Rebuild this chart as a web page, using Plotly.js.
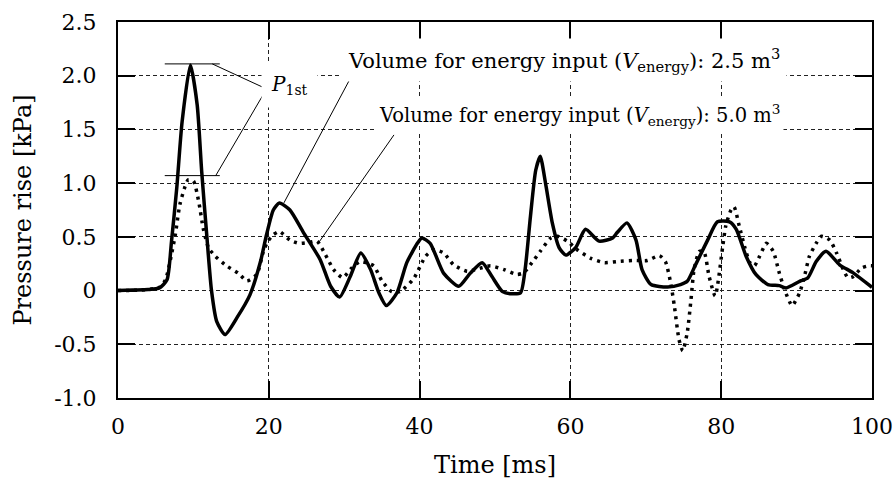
<!DOCTYPE html>
<html>
<head>
<meta charset="utf-8">
<script src="https://cdn.plot.ly/plotly-3.0.1.min.js"></script>
<style>html,body{margin:0;padding:0;background:#fff}#chart{width:893px;height:480px}</style>
</head>
<body>
<div id="chart"></div>
<script>
// ---- data (time in ms, pressure rise in kPa) ----
const timeA = [0, 2, 4, 5.5, 6.5, 7.1, 7.8, 8.5, 9.6, 10.5, 11.1, 11.8, 12.4, 13.1, 14.2, 15.8, 17.5, 18.9, 19.7, 20.6, 21.4, 22.8, 24.6, 26.8, 28.2, 29.4, 30.8, 32.2, 33.5, 34.6, 35.6, 37.0, 38.3, 39.7, 40.3, 41.4, 43.2, 45.2, 46.7, 48.3, 49.6, 51.0, 52.3, 53.4, 54.0, 54.7, 55.4, 56.0, 56.7, 57.6, 58.5, 59.4, 60.7, 62.0, 63.8, 65.6, 66.2, 67.5, 68.7, 69.5, 70.7, 72.9, 74.6, 75.5, 76.6, 78.2, 79.5, 81.1, 82.0, 83.3, 84.6, 86.2, 87.7, 88.6, 90.4, 91.5, 92.6, 93.9, 95.7, 97.5, 100];
const pressA = [0, 0.005, 0.01, 0.025, 0.1, 0.46, 0.96, 1.57, 2.10, 1.73, 1.11, 0.49, 0.0, -0.29, -0.41, -0.25, -0.04, 0.27, 0.52, 0.75, 0.815, 0.75, 0.54, 0.29, 0.04, -0.06, 0.13, 0.35, 0.195, -0.02, -0.14, -0.02, 0.26, 0.44, 0.49, 0.44, 0.16, 0.04, 0.16, 0.26, 0.13, -0.01, -0.03, -0.02, 0.2, 0.69, 1.12, 1.25, 1.0, 0.63, 0.40, 0.33, 0.40, 0.57, 0.46, 0.49, 0.54, 0.63, 0.47, 0.195, 0.056, 0.034, 0.056, 0.086, 0.24, 0.47, 0.64, 0.64, 0.57, 0.32, 0.15, 0.056, 0.046, 0.025, 0.086, 0.12, 0.27, 0.365, 0.24, 0.165, 0.03];

const timeB = [0, 3, 5.5, 6.3, 6.9, 7.6, 8.2, 8.9, 9.3, 10.0, 10.7, 11.3, 12.0, 12.9, 14.4, 16.0, 17.1, 18.4, 19.3, 19.9, 20.6, 21.4, 22.8, 24.0, 25.5, 26.4, 27.5, 28.6, 29.8, 31.0, 32.1, 33.9, 35.0, 36.3, 37.4, 39.2, 40.8, 41.9, 43.2, 44.5, 46.3, 47.6, 49.4, 51.2, 52.9, 53.8, 54.9, 56.0, 57.4, 58.3, 59.6, 60.9, 62.7, 64.5, 66.2, 68.4, 70.2, 71.8, 72.6, 73.3, 73.8, 74.4, 74.9, 75.5, 76.0, 76.4, 77.1, 77.7, 78.4, 79.2, 80.2, 80.6, 81.3, 81.7, 82.4, 83.1, 83.8, 84.4, 85.1, 86.0, 86.9, 87.7, 88.4, 89.4, 90.4, 91.1, 91.7, 92.6, 93.3, 94.4, 95.3, 96.2, 96.8, 97.5, 98.6, 99.5, 100];
const pressB = [0, 0.005, 0.03, 0.10, 0.27, 0.52, 0.80, 0.97, 1.03, 1.02, 0.83, 0.58, 0.40, 0.32, 0.23, 0.16, 0.09, 0.15, 0.37, 0.46, 0.52, 0.55, 0.47, 0.44, 0.45, 0.46, 0.335, 0.195, 0.12, 0.21, 0.27, 0.23, 0.09, -0.01, -0.01, 0.11, 0.32, 0.38, 0.35, 0.24, 0.18, 0.20, 0.23, 0.195, 0.15, 0.165, 0.26, 0.365, 0.49, 0.505, 0.46, 0.38, 0.30, 0.26, 0.27, 0.28, 0.28, 0.325, 0.27, 0.07, -0.15, -0.455, -0.56, -0.39, -0.08, 0.195, 0.365, 0.365, 0.13, -0.05, 0.41, 0.60, 0.75, 0.78, 0.60, 0.41, 0.26, 0.23, 0.32, 0.44, 0.365, 0.165, 0.01, -0.14, -0.02, 0.15, 0.32, 0.44, 0.505, 0.47, 0.35, 0.195, 0.12, 0.13, 0.21, 0.23, 0.23];

const xTickVals = [0, 20, 40, 60, 80, 100];
const xTickText = ['0', '20', '40', '60', '80', '100'];
const yTickVals = [-1.0, -0.5, 0, 0.5, 1.0, 1.5, 2.0, 2.5];
const yTickText = ['-1.0', '-0.5', '0', '0.5', '1.0', '1.5', '2.0', '2.5'];

const xTitle = '\u00a0\u00a0Time [ms]';
const yTitle = 'Pressure rise [kPa]';
const labelA = 'Volume for energy input (<i>V</i><sub>energy</sub>): 2.5 m<sup>3</sup>';
const labelB = 'Volume for energy input (<i>V</i><sub>energy</sub>): 5.0 m<sup>3</sup>';
const labelP = '<i>P</i><sub>1st</sub>';

// annotation anchor points (data coordinates)
const labelAPos = [29.6, 2.15];
const labelBPos = [34.1, 1.63];
const labelPPos = [18.9, 1.91];
const leaderA = {x: [31.0, 22.0], y: [2.0, 0.816]};
const leaderB = {x: [36.6, 26.7], y: [1.449, 0.455]};
const pBarTop = {x: [6.2, 13.5], y: [2.11, 2.11]};
const pBarLow = {x: [6.2, 13.5], y: [1.07, 1.07]};
const pLeadTop = {x: [12.5, 19.7], y: [2.11, 1.877]};
const pLeadLow = {x: [12.96, 19.7], y: [1.07, 1.877]};

const FONT = 'DejaVu Serif, serif';
const thin = {color: '#000', width: 1};

const traces = [
  {x: timeB, y: pressB, mode: 'lines', line: {color: '#000', width: 3.5, dash: '3px,5px', shape: 'spline', smoothing: 0.6}},
  {x: timeA, y: pressA, mode: 'lines', line: {color: '#000', width: 3.5, shape: 'spline', smoothing: 0.6}},
];
[leaderA, leaderB, pBarTop, pBarLow, pLeadTop, pLeadLow].forEach(l => {
  traces.push({x: l.x, y: l.y, mode: 'lines', line: thin, hoverinfo: 'skip'});
});

const axisCommon = {
  ticks: 'inside', ticklen: 17, tickwidth: 2, tickcolor: '#000',
  showline: true, linewidth: 2, linecolor: '#000', mirror: 'ticks',
  showgrid: true, gridcolor: '#222', gridwidth: 1, griddash: '4px,3px',
  zeroline: false, tickfont: {family: FONT, size: 22, color: '#000'},
  fixedrange: true
};

const layout = {
  width: 893, height: 480,
  margin: {l: 118, r: 21, t: 22, b: 82},
  paper_bgcolor: '#fff', plot_bgcolor: '#fff',
  showlegend: false,
  font: {family: FONT, color: '#000'},
  xaxis: Object.assign({}, axisCommon, {
    range: [0, 100], tickmode: 'array', tickvals: xTickVals, ticktext: xTickText,
    ticklabelstandoff: 8,
    title: {text: xTitle, font: {family: FONT, size: 24, color: '#000'}, standoff: 18}
  }),
  yaxis: Object.assign({}, axisCommon, {
    range: [-1.0, 2.5], tickmode: 'array', tickvals: yTickVals, ticktext: yTickText,
    ticklabelstandoff: 15,
    title: {text: yTitle, font: {family: FONT, size: 24, color: '#000'}, standoff: 16}
  }),
  annotations: [
    {x: labelAPos[0], y: labelAPos[1], xref: 'x', yref: 'y', text: labelA, showarrow: false,
     xanchor: 'left', yanchor: 'middle', bgcolor: '#fff', borderpad: 6,
     font: {family: FONT, size: 21, color: '#000'}},
    {x: labelBPos[0], y: labelBPos[1], xref: 'x', yref: 'y', text: labelB, showarrow: false,
     xanchor: 'left', yanchor: 'middle', bgcolor: '#fff', borderpad: 3,
     font: {family: FONT, size: 19.5, color: '#000'}},
    {x: labelPPos[0], y: labelPPos[1], xref: 'x', yref: 'y', text: labelP, showarrow: false,
     xanchor: 'left', yanchor: 'middle', bgcolor: '#fff', borderpad: 9,
     font: {family: FONT, size: 20, color: '#000'}}
  ]
};

Plotly.newPlot('chart', traces, layout, {staticPlot: true, displayModeBar: false});
</script>
</body>
</html>
